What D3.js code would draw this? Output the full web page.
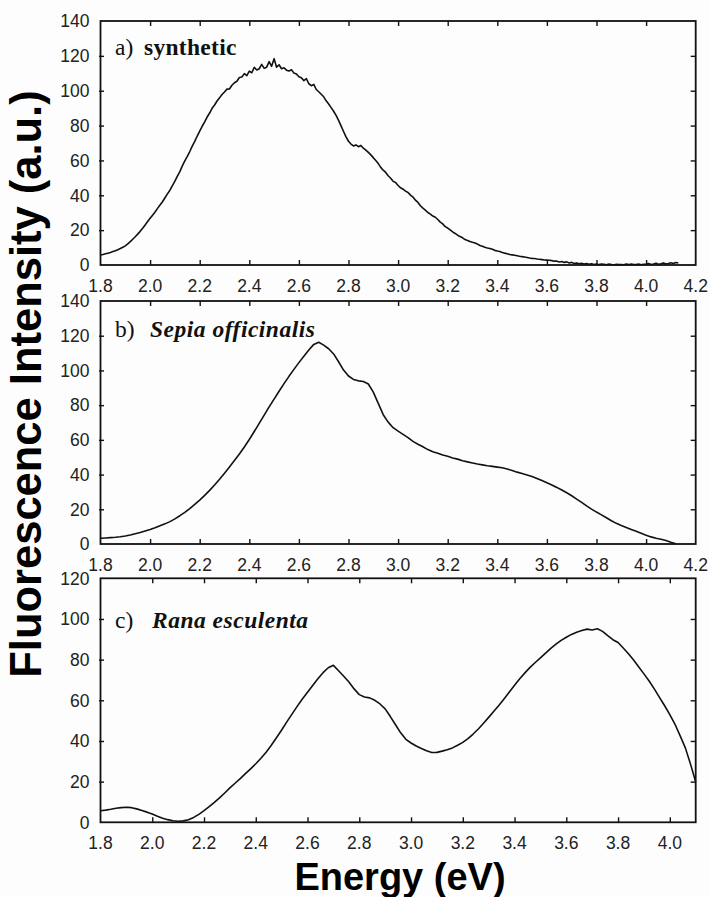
<!DOCTYPE html>
<html>
<head>
<meta charset="utf-8">
<script src="https://cdn.jsdelivr.net/npm/d3@7"></script>
<style>
  html, body { margin: 0; padding: 0; background: #fdfdfd; }
  svg { display: block; }
</style>
</head>
<body>
<svg id="chart" width="710" height="897"></svg>
<script>
// Fluorescence spectra, intensity in arbitrary units versus photon energy (eV)

// a) synthetic — sampled every 0.01 eV from 1.80 eV
const startA = 1.80, stepA = 0.01;
const intensityA = [
  5.7, 6.0, 6.4, 6.8, 7.2, 7.7, 8.2, 8.8, 9.5, 10.2,
  11.0, 12.1, 13.4, 14.8, 16.2, 17.7, 19.3, 21.1, 23.0, 24.9,
  26.8, 28.6, 30.4, 32.5, 34.4, 36.3, 38.6, 40.8, 42.9, 45.6,
  48.1, 51.0, 53.6, 56.9, 59.7, 62.3, 65.1, 68.2, 70.9, 74.0,
  76.8, 79.6, 82.1, 84.9, 87.2, 89.9, 91.8, 94.1, 95.9, 97.8,
  99.3, 100.9, 101.0, 103.1, 104.6, 105.4, 107.6, 107.9, 109.8, 108.6,
  111.2, 110.3, 113.4, 111.9, 112.6, 115.1, 112.8, 113.5, 116.7, 114.0,
  118.4, 113.5, 114.9, 112.6, 113.2, 111.8, 111.3, 112.0, 110.1, 109.6,
  108.0, 107.4, 105.8, 106.9, 104.0, 102.9, 103.6, 100.7, 99.4, 98.0,
  96.5, 94.2, 92.4, 90.3, 88.2, 85.8, 83.0, 79.8, 76.6, 73.5,
  71.0, 69.4, 68.3, 68.9, 67.9, 68.6, 67.0, 65.9, 64.6, 63.2,
  61.6, 59.9, 58.2, 56.0, 54.4, 53.1, 51.2, 49.8, 48.0, 47.3,
  45.6, 44.3, 43.5, 42.4, 41.6, 40.1, 39.0, 37.2, 35.9, 34.0,
  32.6, 31.5, 30.1, 29.2, 28.1, 27.4, 26.1, 24.6, 23.6, 22.0,
  21.2, 20.1, 19.0, 18.1, 17.1, 16.3, 15.6, 14.6, 14.1, 13.5,
  13.0, 12.6, 12.0, 11.2, 10.8, 10.2, 9.8, 9.5, 9.0, 8.4,
  8.0, 7.7, 7.2, 6.8, 6.5, 6.0, 5.8, 5.6, 5.3, 5.0,
  4.8, 4.6, 4.3, 4.0, 3.8, 3.7, 3.4, 3.3, 3.1, 2.9,
  2.8, 2.7, 2.5, 2.2, 2.2, 1.7, 2.0, 1.5, 1.8, 1.2,
  1.5, 0.9, 1.2, 0.7, 1.0, 0.6, 0.9, 0.4, 0.7, 0.3,
  0.6, 0.2, 0.5, 0.4, 0.1, 0.5, 0.3, 0.0, 0.4, 0.2,
  0.3, 0.1, 0.5, 0.2, 0.6, 0.3, 0.2, 0.5, 0.1, 0.4,
  0.5, 0.8, 0.3, 0.6, 1.0, 0.4, 0.7, 1.2, 0.6, 0.9,
  1.3, 0.8, 1.4, 1.1
];

// b) Sepia officinalis — sampled every 0.02 eV from 1.80 eV
const startB = 1.80, stepB = 0.02;
const intensityB = [
  3.3, 3.5, 3.7, 3.9, 4.2, 4.6, 5.2, 5.9, 6.6, 7.5,
  8.4, 9.4, 10.5, 11.6, 12.9, 14.5, 16.3, 18.2, 20.4, 22.8,
  25.3, 28.0, 30.9, 34.0, 37.3, 40.8, 44.4, 48.1, 51.9, 55.9,
  60.2, 64.8, 69.5, 74.3, 79.0, 83.5, 88.0, 92.4, 96.6, 100.6,
  104.5, 108.2, 111.8, 115.0, 116.2, 114.6, 112.5, 109.5, 105.0, 100.2,
  96.8, 94.8, 94.0, 93.6, 92.2, 87.5, 81.0, 74.5, 70.2, 67.0,
  65.0, 63.2, 61.3, 59.1, 57.5, 56.0, 54.4, 53.2, 52.3, 51.3,
  50.5, 49.6, 48.9, 48.0, 47.3, 46.7, 46.1, 45.6, 45.1, 44.7,
  44.3, 43.9, 43.2, 42.3, 41.4, 40.6, 39.8, 38.9, 37.8, 36.6,
  35.3, 34.0, 32.6, 31.1, 29.5, 27.8, 25.9, 24.0, 22.0, 20.1,
  18.4, 16.8, 15.1, 13.4, 11.9, 10.6, 9.5, 8.4, 7.3, 6.2,
  5.1, 4.1, 3.3, 2.7, 2.0, 1.0, 0.2
];

// c) Rana esculenta — sampled every 0.02 eV from 1.80 eV
const startC = 1.80, stepC = 0.02;
const intensityC = [
  5.7, 6.0, 6.4, 6.9, 7.2, 7.4, 7.2, 6.6, 5.8, 5.0,
  4.1, 3.0, 2.0, 1.3, 0.8, 0.5, 0.7, 1.3, 2.4, 3.9,
  5.7, 7.7, 9.8, 12.0, 14.4, 16.9, 19.2, 21.5, 23.9, 26.3,
  28.8, 31.5, 34.5, 37.9, 41.6, 45.4, 49.4, 53.2, 57.0, 60.6,
  64.0, 67.3, 70.6, 73.6, 76.0, 77.2, 74.5, 71.8, 69.0, 65.6,
  62.8, 61.6, 61.2, 60.0, 58.2, 55.8, 52.0, 48.0, 44.0, 40.8,
  39.0, 37.5, 36.3, 35.2, 34.3, 34.4, 35.0, 35.7, 36.6, 37.9,
  39.3, 41.2, 43.4, 45.9, 48.7, 51.6, 54.6, 57.6, 60.8, 64.1,
  67.4, 70.6, 73.5, 76.2, 78.6, 80.9, 83.2, 85.5, 87.6, 89.5,
  91.0, 92.4, 93.5, 94.3, 95.0, 94.6, 95.2, 93.9, 91.8, 89.8,
  88.4, 85.7, 82.9, 79.8, 76.4, 73.0, 69.5, 65.6, 61.4, 57.3,
  53.0, 48.2, 42.5, 36.6, 28.6, 19.8
];

// Axis tick values
const xTicksAB = [1.8, 2.0, 2.2, 2.4, 2.6, 2.8, 3.0, 3.2, 3.4, 3.6, 3.8, 4.0, 4.2];
const xTicksC  = [1.8, 2.0, 2.2, 2.4, 2.6, 2.8, 3.0, 3.2, 3.4, 3.6, 3.8, 4.0];
const yTicksAB = [0, 20, 40, 60, 80, 100, 120, 140];
const yTicksC  = [0, 20, 40, 60, 80, 100, 120];

// Panel labels: prefix and species name
const panelPrefixes = ["a)", "b)", "c)"];
const panelNames = ["synthetic", "Sepia officinalis", "Rana esculenta"];

function toPoints(start, step, values) {
  return values.map((v, i) => ({ e: +(start + i * step).toFixed(2), v }));
}

const panels = [
  { top: 21,    bottom: 265,   xMax: 4.2, yMax: 140, xTicks: xTicksAB, yTicks: yTicksAB,
    data: toPoints(startA, stepA, intensityA), italic: false, labelY: 55,  nameX: 144 },
  { top: 301,   bottom: 544,   xMax: 4.2, yMax: 140, xTicks: xTicksAB, yTicks: yTicksAB,
    data: toPoints(startB, stepB, intensityB), italic: true,  labelY: 337, nameX: 150 },
  { top: 578.3, bottom: 822.3, xMax: 4.1, yMax: 120, xTicks: xTicksC,  yTicks: yTicksC,
    data: toPoints(startC, stepC, intensityC), italic: true,  labelY: 628, nameX: 152 }
];

const left = 100.5, right = 695.7;
const svg = d3.select("#chart");
const sansFont = "'Liberation Sans', Arial, sans-serif";
const serifFont = "'Liberation Serif', 'Times New Roman', serif";
const inkLine = "#111";
const inkText = "#222";

panels.forEach((p, idx) => {
  const x = d3.scaleLinear().domain([1.8, p.xMax]).range([left, right]);
  const y = d3.scaleLinear().domain([0, p.yMax]).range([p.bottom, p.top]);
  const g = svg.append("g");

  // Inward ticks on all four sides
  const tickLen = 5;
  const innerX = p.xTicks.filter(t => t > 1.8 + 1e-9 && t < p.xMax - 1e-9);
  const innerY = p.yTicks.filter(t => t > 0 && t < p.yMax);

  g.append("g").call(d3.axisTop(x).tickValues(innerX).tickSize(tickLen).tickFormat(""))
    .attr("transform", `translate(0,${p.bottom})`);
  g.append("g").call(d3.axisBottom(x).tickValues(innerX).tickSize(tickLen).tickFormat(""))
    .attr("transform", `translate(0,${p.top})`);
  g.append("g").call(d3.axisRight(y).tickValues(innerY).tickSize(tickLen).tickFormat(""))
    .attr("transform", `translate(${left - 1.5},0)`);
  g.append("g").call(d3.axisLeft(y).tickValues(innerY).tickSize(tickLen).tickFormat(""))
    .attr("transform", `translate(${right},0)`);
  g.selectAll(".domain").remove();
  g.selectAll(".tick line").attr("stroke", inkLine).attr("stroke-width", 1.4);

  // Tick labels
  g.selectAll(".xlab").data(p.xTicks).join("text")
    .attr("x", d => x(d)).attr("y", p.bottom + 26.5)
    .attr("text-anchor", "middle")
    .attr("font-family", sansFont).attr("font-size", 17.5).attr("fill", inkText)
    .text(d => d3.format(".1f")(d));
  g.selectAll(".ylab").data(p.yTicks).join("text")
    .attr("x", left - 11).attr("y", d => y(d))
    .attr("dy", "0.36em")
    .attr("text-anchor", "end")
    .attr("font-family", sansFont).attr("font-size", 17.5).attr("fill", inkText)
    .text(d => d);

  // Spectrum
  const line = d3.line().x(d => x(d.e)).y(d => y(d.v));
  g.append("path").datum(p.data)
    .attr("d", line)
    .attr("fill", "none")
    .attr("stroke", inkLine)
    .attr("stroke-width", 1.6)
    .attr("stroke-linejoin", "round");

  // Frame
  g.append("rect")
    .attr("x", left).attr("y", p.top)
    .attr("width", right - left).attr("height", p.bottom - p.top)
    .attr("fill", "none").attr("stroke", inkLine).attr("stroke-width", 1.8);

  // Panel label
  const lab = g.append("text")
    .attr("y", p.labelY)
    .attr("font-family", serifFont).attr("font-size", 23.5).attr("fill", "#111");
  lab.append("tspan").attr("x", 115).text(panelPrefixes[idx]);
  lab.append("tspan").attr("x", p.nameX)
    .attr("font-weight", "bold")
    .attr("font-style", p.italic ? "italic" : "normal")
    .attr("letter-spacing", p.italic ? 0.5 : 0.3)
    .text(panelNames[idx]);
});

// Axis titles
svg.append("text")
  .attr("transform", "translate(40.5,384) rotate(-90)")
  .attr("text-anchor", "middle")
  .attr("font-family", sansFont).attr("font-weight", "bold").attr("font-size", 43.5)
  .attr("fill", "#000")
  .text("Fluorescence Intensity (a.u.)");

svg.append("text")
  .attr("x", 400).attr("y", 890)
  .attr("text-anchor", "middle")
  .attr("font-family", sansFont).attr("font-weight", "bold").attr("font-size", 38)
  .attr("fill", "#000")
  .text("Energy (eV)");
</script>
</body>
</html>
